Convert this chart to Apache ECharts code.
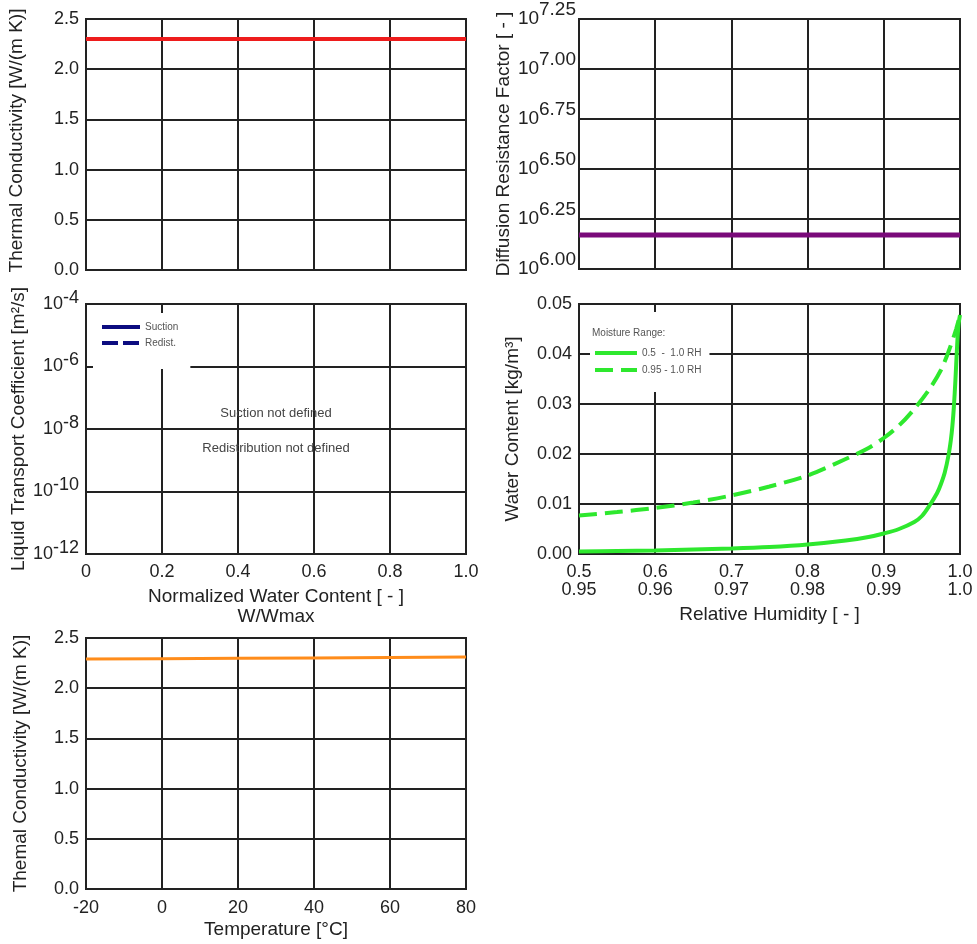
<!DOCTYPE html>
<html><head><meta charset="utf-8">
<script src="https://cdn.jsdelivr.net/npm/echarts@6/dist/echarts.min.js"></script>
<style>html,body{margin:0;padding:0;background:#fff}#c{width:977px;height:944px}</style>
</head><body><div id="c"></div>
<script>
const FONT = "'Liberation Sans', Arial, Helvetica, sans-serif";
const TXT = '#222';

// Panel 1: thermal conductivity vs normalized water content
const p1WaterContent = [0, 1];
const p1Lambda = [2.30, 2.30];

// Panel 2: diffusion resistance factor vs normalized water content
const p2WaterContent = [0, 1];
const p2Mu = [1.48e6, 1.48e6];

// Panel 3: liquid transport coefficient (not defined)
const p3Suction = [];
const p3Redist = [];

// Panel 4: sorption isotherm (full range 0.5-1.0 RH)
const rhFull = [0.5, 0.55, 0.6, 0.65, 0.7, 0.75, 0.8, 0.85, 0.88, 0.9, 0.92, 0.94, 0.95, 0.96, 0.97, 0.975, 0.98, 0.985, 0.988, 0.99, 0.992, 0.994, 0.996, 0.998, 1.0];
const wFull  = [0.0005, 0.0006, 0.0007, 0.0009, 0.0011, 0.0014, 0.0019, 0.0027, 0.0034, 0.0041, 0.0050, 0.0064, 0.0076, 0.0097, 0.0122, 0.0140, 0.0163, 0.0198, 0.0228, 0.0256, 0.0295, 0.0348, 0.0410, 0.0458, 0.0478];
// Panel 4: sorption isotherm (high range 0.95-1.0 RH)
const rhHigh = [0.950, 0.955, 0.960, 0.965, 0.970, 0.975, 0.980, 0.985, 0.988, 0.990, 0.992, 0.994, 0.996, 0.9975, 0.9985, 0.9995, 1.0];
const wHigh  = [0.0077, 0.0084, 0.0092, 0.0103, 0.0117, 0.0135, 0.0157, 0.0190, 0.0212, 0.0232, 0.0257, 0.0290, 0.0330, 0.0368, 0.0405, 0.0450, 0.0478];

// Panel 5: thermal conductivity vs temperature
const temps = [-20, 0, 20, 40, 60, 80];
const lambdaT = [2.29, 2.294, 2.298, 2.302, 2.306, 2.31];

const zip = (a, b, f) => a.map((v, i) => [v, f ? f(b[i]) : b[i]]);

const grids = [
  {left: 86, top: 19, width: 380, height: 251},
  {left: 579, top: 19, width: 381, height: 250},
  {left: 86, top: 304, width: 380, height: 250},
  {left: 579, top: 304, width: 381, height: 250},
  {left: 86, top: 638, width: 380, height: 251}
].map(g => Object.assign(g, {show: true, borderColor: '#222', borderWidth: 2, backgroundColor: '#fff'}));

const split = {show: true, lineStyle: {color: '#222', width: 2}};
const lab = (extra) => Object.assign({color: TXT, fontFamily: FONT, fontSize: 18}, extra || {});
const nameStyle = (extra) => Object.assign({color: TXT, fontFamily: FONT, fontSize: 19, lineHeight: 20}, extra || {});
const supRich = (fs, raise) => ({
  b: {fontSize: fs, fontFamily: FONT, color: TXT},
  s: {fontSize: fs, fontFamily: FONT, color: TXT, padding: [0, 0, raise * 2, 0]}
});

function xAx(gi, min, max, interval, labels, extra) {
  return Object.assign({
    type: 'value', gridIndex: gi, min, max, interval,
    axisLine: {show: false}, axisTick: {show: false}, splitLine: split,
    axisLabel: Object.assign(lab({margin: 9}), {show: labels})
  }, extra || {});
}
function yAx(gi, min, max, interval, name, gap, extra) {
  return Object.assign({
    type: 'value', gridIndex: gi, min, max, interval,
    name, nameLocation: 'middle', nameGap: gap, nameTextStyle: nameStyle(),
    axisLine: {show: false}, axisTick: {show: false}, splitLine: split,
    axisLabel: lab({margin: 7})
  }, extra || {});
}

const legendBase = {
  orient: 'vertical', itemHeight: 10, backgroundColor: '#fff', selectedMode: false,
  itemStyle: {color: 'rgba(0,0,0,0)', borderWidth: 0, opacity: 0},
  lineStyle: {width: 4},
  textStyle: {fontSize: 10, color: '#555', fontFamily: FONT}
};

const option = {
  animation: false,
  backgroundColor: '#fff',
  grid: grids,
  xAxis: [
    xAx(0, 0, 1, 0.2, false),
    xAx(1, 0, 1, 0.2, false),
    xAx(2, 0, 1, 0.2, true, {
      name: 'Normalized Water Content [ - ]\nW/Wmax', nameLocation: 'middle', nameGap: 33, nameTextStyle: nameStyle(),
      axisLabel: lab({margin: 9, formatter: v => v === 0 ? '0' : v.toFixed(1)})
    }),
    xAx(3, 0.5, 1.0, 0.1, true, {
      name: 'Relative Humidity [ - ]', nameLocation: 'middle', nameGap: 51, nameTextStyle: nameStyle(),
      axisLabel: lab({margin: 9, lineHeight: 18, formatter: v => {
        const hi = 0.95 + (v - 0.5) / 10;
        return v.toFixed(1) + '\n' + (Math.abs(hi - 1) < 1e-9 ? '1.0' : hi.toFixed(2));
      }})
    }),
    xAx(4, -20, 80, 20, true, {
      name: 'Temperature [°C]', nameLocation: 'middle', nameGap: 31, nameTextStyle: nameStyle(),
      axisLabel: lab({margin: 10})
    }),
    {type: 'value', gridIndex: 3, min: 0.95, max: 1.0, show: false, splitLine: {show: false}}
  ],
  yAxis: [
    yAx(0, 0, 2.5, 0.5, 'Thermal Conductivity [W/(m K)]', 59, {
      nameTextStyle: nameStyle({padding: [0, 0, 0, 8]}),
      axisLabel: lab({margin: 7, formatter: v => v.toFixed(1)})
    }),
    yAx(1, 6, 7.25, 0.25, 'Diffusion Resistance Factor [ - ]', 62, {
      axisLabel: lab({margin: 3, formatter: v => '{b|10}{s|' + v.toFixed(2) + '}', rich: supRich(19, 9)})
    }),
    yAx(2, -12, -4, 2, 'Liquid Transport Coefficient [m²/s]', 56, {
      axisLabel: lab({margin: 7, formatter: v => '{b|10}{s|' + v + '}', rich: supRich(18, 6)})
    }),
    yAx(3, 0, 0.05, 0.01, 'Water Content [kg/m³]', 56, {axisLabel: lab({margin: 7, formatter: v => v.toFixed(2)})}),
    yAx(4, 0, 2.5, 0.5, 'Themal Conductivity [W/(m K)]', 55, {axisLabel: lab({margin: 7, formatter: v => v.toFixed(1)})})
  ],
  legend: [
    Object.assign({}, legendBase, {
      data: ['Suction', 'Redist.'], left: 93, top: 313,
      padding: [9, 12, 21, 7], itemWidth: 38, itemGap: 6
    }),
    Object.assign({}, legendBase, {
      data: ['0.5  -  1.0 RH', '0.95 - 1.0 RH'], left: 590, top: 312,
      padding: [36, 8, 17, 3], itemWidth: 42, itemGap: 7
    })
  ],
  graphic: [
    {type: 'text', x: 276, y: 413, z: 100, style: {text: 'Suction not defined', fill: '#444', font: '13px ' + FONT, textAlign: 'center', textVerticalAlign: 'middle', verticalAlign: 'middle'}},
    {type: 'text', x: 276, y: 448, z: 100, style: {text: 'Redistribution not defined', fill: '#444', font: '13px ' + FONT, textAlign: 'center', textVerticalAlign: 'middle', verticalAlign: 'middle'}},
    {type: 'text', x: 592, y: 333, z: 100, style: {text: 'Moisture Range:', fill: '#555', font: '10px ' + FONT, textAlign: 'left', textVerticalAlign: 'middle', verticalAlign: 'middle'}}
  ],
  series: [
    {type: 'line', xAxisIndex: 0, yAxisIndex: 0, data: zip(p1WaterContent, p1Lambda), symbol: 'none',
     lineStyle: {color: '#ee1c1c', width: 4}, itemStyle: {color: '#ee1c1c'}},
    {type: 'line', xAxisIndex: 1, yAxisIndex: 1, data: zip(p2WaterContent, p2Mu, Math.log10), symbol: 'none',
     lineStyle: {color: '#7a0a7a', width: 5}, itemStyle: {color: '#7a0a7a'}},
    {name: 'Suction', type: 'line', xAxisIndex: 2, yAxisIndex: 2, data: p3Suction, symbol: 'none',
     lineStyle: {color: '#0c0c80', width: 4}, itemStyle: {color: '#0c0c80'}},
    {name: 'Redist.', type: 'line', xAxisIndex: 2, yAxisIndex: 2, data: p3Redist, symbol: 'none',
     lineStyle: {color: '#0c0c80', width: 4, type: [16, 5]}, itemStyle: {color: '#0c0c80'}},
    {name: '0.5  -  1.0 RH', type: 'line', xAxisIndex: 3, yAxisIndex: 3, data: zip(rhFull, wFull), symbol: 'none',
     smooth: 0.3,
     lineStyle: {color: '#2ee82e', width: 4}, itemStyle: {color: '#2ee82e'}},
    {name: '0.95 - 1.0 RH', type: 'line', xAxisIndex: 5, yAxisIndex: 3, data: zip(rhHigh, wHigh), symbol: 'none',
     smooth: 0.3,
     lineStyle: {color: '#2ee82e', width: 4, type: [18, 8]}, itemStyle: {color: '#2ee82e'}},
    {type: 'line', xAxisIndex: 4, yAxisIndex: 4, data: zip(temps, lambdaT), symbol: 'none',
     lineStyle: {color: '#ff8c1a', width: 3}, itemStyle: {color: '#ff8c1a'}}
  ]
};

const chart = echarts.init(document.getElementById('c'), null, {renderer: 'canvas'});
chart.setOption(option);
</script>
</body></html>
